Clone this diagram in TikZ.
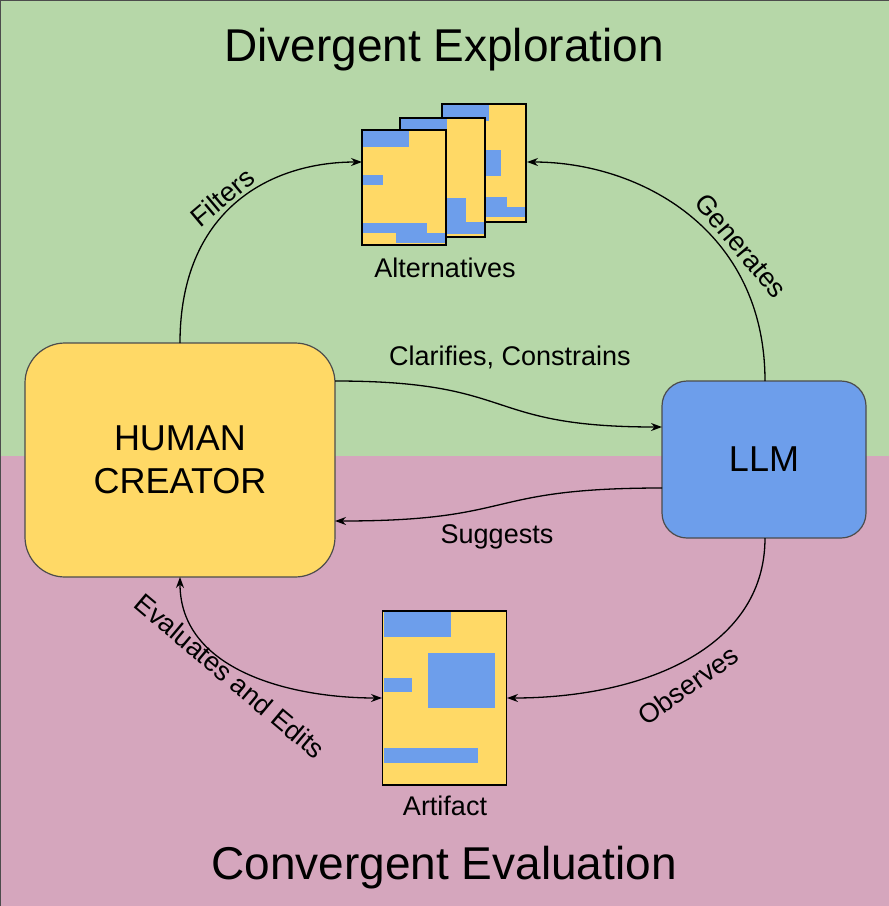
\documentclass[tikz,border=0pt]{standalone}
\usepackage{fontspec}
\setmainfont{Liberation Sans}
\usetikzlibrary{arrows.meta}
\definecolor{gr}{HTML}{B6D7A8}
\definecolor{pk}{HTML}{D5A6BD}
\definecolor{ye}{HTML}{FFD966}
\definecolor{bl}{HTML}{6D9EEB}
\begin{document}
\begin{tikzpicture}[x=1pt,y=-1pt,
  conn/.style={draw=black,line width=1.3pt,-{Stealth[length=11pt,width=8pt]}},
  lab/.style={font=\fontsize{27}{30}\selectfont},
  doc/.style={fill=ye,draw=black,line width=1.2pt},
  bb/.style={fill=bl}]
\useasboundingbox (0,0) rectangle (889,906);
\fill[gr] (0,0) rectangle (889,456);
\fill[pk] (0,456) rectangle (889,906);
\draw[line width=0.8pt,black!70] (0,0) rectangle (889,906);
\node[font=\fontsize{46}{50}\selectfont] (t1) at (444,50) {Divergent Exploration};
\node[font=\fontsize{46}{50}\selectfont] (t2) at (444,868) {Convergent Evaluation};
% human / llm
\node[draw=black!70,line width=1.2pt,fill=ye,rounded corners=40pt,minimum width=310pt,minimum height=234pt,align=center,font=\fontsize{36}{43}\selectfont] (h) at (180,460) {HUMAN\\CREATOR};
\node[draw=black!70,line width=1.2pt,fill=bl,rounded corners=25pt,minimum width=204pt,minimum height=157pt,font=\fontsize{36}{40}\selectfont] (l) at (764,459.5) {LLM};
% alternatives (back)
\draw[doc] (442,104) rectangle (526,222);
\fill[bb] (443,105) rectangle (489,121);
\fill[bb] (485,150) rectangle (501,176);
\fill[bb] (485,197) rectangle (507,207);
\fill[bb] (485,207) rectangle (525,217);
\draw[doc] (400,118) rectangle (485,237);
\fill[bb] (401,119) rectangle (447,130);
\fill[bb] (447,198) rectangle (466,222);
\fill[bb] (447,222) rectangle (484,234);
\draw[doc] (362,130) rectangle (446,245);
\fill[bb] (363,131) rectangle (409,147);
\fill[bb] (363,175) rectangle (383,185);
\fill[bb] (363,223) rectangle (427,233);
\fill[bb] (396,233) rectangle (445,243);
\coordinate (altL) at (362,162);
\coordinate (altR) at (527,162);
\node[lab] (alt) at (445,268) {Alternatives};
% artifact
\draw[doc] (382.5,611) rectangle (506.5,785);
\fill[bb] (384,612) rectangle (451,637);
\fill[bb] (428,653) rectangle (495,708);
\fill[bb] (384,678) rectangle (412,692);
\fill[bb] (384,748) rectangle (478,763);
\coordinate (artL) at (382,698);
\coordinate (artR) at (507,698);
\node[lab] (art) at (445,806) {Artifact};
% connectors
\coordinate (hT) at (180,343);
\coordinate (lT) at (765,381);
\coordinate (hB) at (180,577);
\coordinate (lB) at (765,538);
\draw[conn] (hT) .. controls (180,210) and (270,162) .. (altL);
\draw[conn] (lT) .. controls (765,230) and (640,162) .. (altR);
\draw[conn] (335,381) .. controls (520,381) and (480,427) .. (662,427);
\draw[conn] (662,488) .. controls (480,488) and (520,521) .. (335,521);
\draw[conn] (lB) .. controls (765,650) and (640,698) .. (artR);
\draw[conn,{Stealth[length=11pt,width=8pt]}-{Stealth[length=11pt,width=8pt]}] (hB) .. controls (180,670) and (290,698) .. (artL);
\node[lab,rotate=40] at (222,197) {Filters};
\node[lab,rotate=-50] at (741,246) {Generates};
\node[lab] at (510,357) {Clarifies, Constrains};
\node[lab] at (497,537) {Suggests};
\node[lab,rotate=35] at (688,685) {Observes};
\node[lab,rotate=-40] at (230,676) {Evaluates and Edits};
\end{tikzpicture}
\end{document}
